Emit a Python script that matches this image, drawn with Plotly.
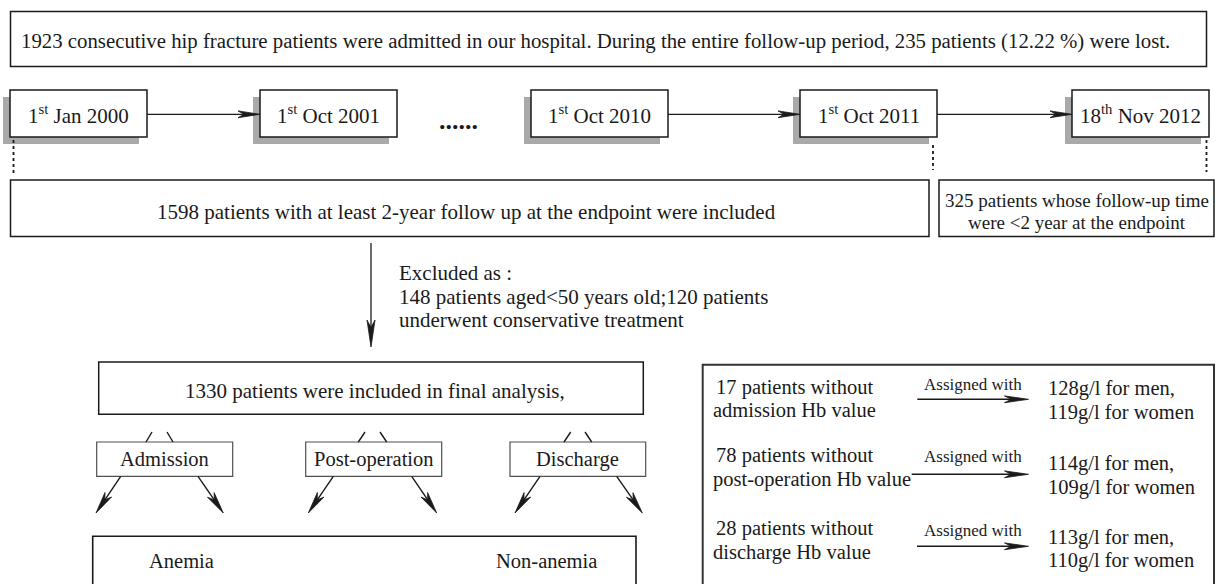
import math
import plotly.graph_objects as go

# ---------------- data (texts / numbers of the flow chart) ----------------
total_admitted = 1923
lost_n = 235
lost_pct = 12.22
date_labels = ["1<sup>st</sup> Jan 2000", "1<sup>st</sup> Oct 2001", "1<sup>st</sup> Oct 2010",
               "1<sup>st</sup> Oct 2011", "18<sup>th</sup> Nov 2012"]
included_n = 1598
short_fu_n = 325
excluded_age_n = 148
excluded_cons_n = 120
final_n = 1330
timepoints = ["Admission", "Post-operation", "Discharge"]
groups = ["Anemia", "Non-anemia"]
missing_n = [17, 78, 28]
missing_stage = ["admission", "post-operation", "discharge"]
hb_men = [128, 114, 113]
hb_women = [119, 109, 110]

FONT = "Liberation Serif, Times New Roman, serif"
INK = "#1a1a1a"

shapes = []
annotations = []


def rect(x0, y0, x1, y1, color=INK, width=1.5, fill=None, layer="above"):
    shapes.append(dict(type="rect", xref="x", yref="y", x0=x0, y0=y0, x1=x1, y1=y1,
                       line=dict(color=color, width=width),
                       fillcolor=fill if fill else "rgba(0,0,0,0)", layer=layer))


def shadow(x0, y0, x1, y1):
    shapes.append(dict(type="rect", xref="x", yref="y", x0=x0, y0=y0, x1=x1, y1=y1,
                       line=dict(width=0), fillcolor="#a9a9a9", layer="below"))


def line(x0, y0, x1, y1, width=1.3, dash=None, color=INK):
    ln = dict(color=color, width=width)
    if dash:
        ln["dash"] = dash
    shapes.append(dict(type="line", xref="x", yref="y", x0=x0, y0=y0, x1=x1, y1=y1, line=ln))


def head(tx, ty, dx, dy, L=22, W=3.4, notch=0.72):
    n = math.hypot(dx, dy)
    ux, uy = dx / n, dy / n
    px, py = -uy, ux
    bx, by = tx - ux * L, ty - uy * L
    mx, my = tx - ux * L * notch, ty - uy * L * notch
    path = (f"M {tx:.2f},{ty:.2f} L {bx + px * W:.2f},{by + py * W:.2f} "
            f"L {mx:.2f},{my:.2f} L {bx - px * W:.2f},{by - py * W:.2f} Z")
    shapes.append(dict(type="path", xref="x", yref="y", path=path,
                       fillcolor=INK, line=dict(color=INK, width=0.8)))


def arrow(x0, y0, x1, y1, width=1.3, L=22, W=3.4):
    dx, dy = x1 - x0, y1 - y0
    n = math.hypot(dx, dy)
    line(x0, y0, x1 - dx / n * L * 0.6, y1 - dy / n * L * 0.6, width=width)
    head(x1, y1, dx, dy, L=L, W=W)


def text(x, y, s, size=21, anchor="center", color=INK):
    annotations.append(dict(x=x, y=y, xref="x", yref="y", text=s, showarrow=False,
                            xanchor=anchor, yanchor="middle",
                            font=dict(family=FONT, size=size, color=color)))


# ---------------- top box ----------------
rect(10.5, 11.5, 1206.5, 66.5)
text(595, 41, f"{total_admitted} consecutive hip fracture patients were admitted in our hospital. "
              f"During the entire follow-up period, {lost_n} patients ({lost_pct} %) were lost.",
     size=20.8)

# ---------------- date boxes ----------------
date_boxes = [(10, 147), (260, 397), (531, 668), (800, 937), (1072, 1209)]
dy0, dy1 = 90, 137
for (x0, x1), lab in zip(date_boxes, date_labels):
    shadow(x0 - 7, dy0 + 7, x1 - 8, dy1 + 7)
    rect(x0, dy0, x1, dy1, fill="white")
    text((x0 + x1) / 2, 114, lab)
text(458, 120, "<b>......</b>", size=26)
arrow(147, 114.3, 260, 114.3)
arrow(668, 114.3, 800, 114.3)
arrow(937, 114.3, 1072, 114.3)

# dashed connectors
line(13.5, 140, 13.5, 175, width=1.8, dash="3px,3px")
line(933, 145, 933, 170, width=1.8, dash="3px,3px")
line(1206.5, 140, 1206.5, 172, width=1.8, dash="3px,3px")

# ---------------- included / short follow-up ----------------
rect(10.5, 180, 929, 236.5)
text(466, 212, f"{included_n} patients with at least 2-year follow up at the endpoint were included")
rect(939, 180, 1214, 236.5)
text(1076.5, 200, f"{short_fu_n} patients whose follow-up time", size=19)
text(1076.5, 222, "were &lt;2 year at the endpoint", size=19)

# ---------------- exclusion ----------------
arrow(371, 243, 371, 347, width=1.3, L=27, W=4)
text(397, 273, "Excluded as :", anchor="left")
text(397, 297, f"{excluded_age_n} patients aged&lt;50 years old;{excluded_cons_n} patients", anchor="left")
text(397, 320, "underwent conservative treatment", anchor="left")

# ---------------- final analysis ----------------
rect(98.7, 362, 643.3, 414.3)
text(375, 391, f"{final_n} patients were included in final analysis,")

tp_boxes = [(96.7, 232.7), (305.7, 441.7), (510, 645.7)]
stubs = [((152, 146), (167, 173)), ((365, 358.3), (380, 386.7)), ((570.7, 564), (585, 591.7))]
down_arrows = [((120.7, 96), (198, 223.3)), ((333.3, 308.3), (411.7, 436.7)), ((540, 515), (616.7, 642.3))]
for (x0, x1), lab, st, da in zip(tp_boxes, timepoints, stubs, down_arrows):
    rect(x0, 442, x1, 476.3, color="#505050", width=1.2)
    text((x0 + x1) / 2, 459, lab, size=20.5)
    line(st[0][0], 432, st[0][1], 442, width=1.4)
    line(st[1][0], 432, st[1][1], 442, width=1.4)
    arrow(da[0][0], 476.3, da[0][1], 513, width=1.4, L=22, W=4)
    arrow(da[1][0], 476.3, da[1][1], 513, width=1.4, L=22, W=4)

rect(92.7, 536.3, 636, 600, width=1.6)
text(181.7, 561, groups[0], size=20.5)
text(546.7, 561, groups[1], size=20.5)

# ---------------- imputation box ----------------
rect(702.7, 364.7, 1214, 600, color="#333333", width=2)
row_line1 = [387, 455, 528.7]
row_line2 = [410, 479, 552.5]
row_arrow = [399.3, 474.3, 546.3]
row_arrow_x0 = [917.3, 911.7, 917]
row_assigned = [384.5, 456, 530]
row_val1 = [388.5, 463.5, 537]
row_val2 = [412.5, 487, 560.3]
for i in range(3):
    text(714, row_line1[i], f"{missing_n[i]} patients without", size=20.5, anchor="left")
    text(711, row_line2[i], f"{missing_stage[i]} Hb value", size=20.5, anchor="left")
    text(973.3, row_assigned[i], "Assigned with", size=17)
    arrow(row_arrow_x0[i], row_arrow[i], 1028.5, row_arrow[i], width=1.6, L=24, W=3.4)
    text(1045.5, row_val1[i], f"{hb_men[i]}g/l for men,", size=20.5, anchor="left")
    text(1045.5, row_val2[i], f"{hb_women[i]}g/l for women", size=20.5, anchor="left")

fig = go.Figure()
fig.add_trace(go.Scatter(x=[0], y=[0], mode="markers", marker=dict(opacity=0), hoverinfo="skip",
                         showlegend=False))
fig.update_layout(
    width=1216, height=584,
    margin=dict(l=0, r=0, t=0, b=0),
    paper_bgcolor="white", plot_bgcolor="white",
    xaxis=dict(range=[0, 1216], visible=False, fixedrange=True),
    yaxis=dict(range=[584, 0], visible=False, fixedrange=True),
    shapes=shapes, annotations=annotations, showlegend=False,
)
fig.write_html("out.html", config={"displayModeBar": False},
               post_script="document.body.style.margin='0';document.body.style.padding='0';"
                           "document.body.style.overflow='hidden';")
